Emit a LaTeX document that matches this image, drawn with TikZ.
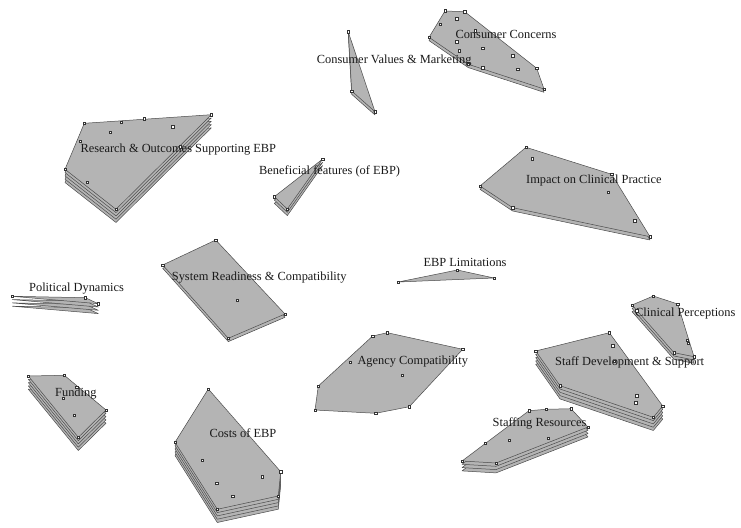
\documentclass[tikz,border=0pt]{standalone}
\usepackage{fontspec}
\setmainfont{Liberation Serif}
\definecolor{clusterfill}{RGB}{180,180,180}
\definecolor{clusterline}{RGB}{75,75,75}
\tikzset{
  cluster/.style={draw=clusterline,fill=clusterfill,line width=0.5pt,line join=round},
  vertex/.style={draw=black!80,fill=white,line width=0.4pt},
  clabel/.style={anchor=base west,inner sep=0pt,text=black!90,font=\fontsize{12.4}{14}\selectfont}
}
\begin{document}
\begin{tikzpicture}[x=1pt,y=-1pt]
\useasboundingbox (0,0) rectangle (741,527);

% cluster polygons, stacked
\foreach \k in {4,3,...,0}
  \draw[cluster,shift={(0,3.3*\k)}] (84.3,123.3) -- (211.3,114.7) -- (116,209.3) -- (65,169.3) -- cycle;
\foreach \k in {1,0}
  \draw[cluster,shift={(0,3.3*\k)}] (348.3,32) -- (375,111.7) -- (351.7,91) -- cycle;
\foreach \k in {1,0}
  \draw[cluster,shift={(0,3.3*\k)}] (445,11) -- (464.7,11.7) -- (536.7,68.3) -- (544,89) -- (468.3,64.3) -- (429,37.3) -- cycle;
\foreach \k in {2,1,0}
  \draw[cluster,shift={(0,3.3*\k)}] (322.7,159) -- (287.3,209) -- (274.3,196.7) -- cycle;
\foreach \k in {1,0}
  \draw[cluster,shift={(0,3.3*\k)}] (526,147.3) -- (611.7,174.3) -- (650,236.7) -- (512.7,207.7) -- (480,186) -- cycle;
\foreach \k in {3,2,1,0}
  \draw[cluster,shift={(0,3.3*\k)}] (12.3,296.3) -- (85.3,297.7) -- (98.3,303.7) -- cycle;
\foreach \k in {1,0}
  \draw[cluster,shift={(0,3.3*\k)}] (215.7,240) -- (285,314) -- (228.3,338.3) -- (162.7,265) -- cycle;
\draw[cluster] (398.3,282) -- (457.3,270) -- (494,278) -- cycle;
\foreach \k in {2,1,0}
  \draw[cluster,shift={(0,3.3*\k)}] (653.3,296) -- (677.7,304) -- (694,356.7) -- (674,352.7) -- (632,305) -- cycle;
\foreach \k in {4,3,...,0}
  \draw[cluster,shift={(0,3.3*\k)}] (609.3,332.7) -- (662.7,406) -- (653.3,417.3) -- (560,385.7) -- (535.7,351) -- cycle;
\draw[cluster] (372.7,336) -- (387.3,332.7) -- (462.7,349.3) -- (409.3,406.7) -- (375.7,413.3) -- (315,410) -- (318.3,386) -- cycle;
\foreach \k in {4,3,...,0}
  \draw[cluster,shift={(0,3.3*\k)}] (28.3,376) -- (64.3,375.3) -- (106,410) -- (78.3,437.3) -- cycle;
\foreach \k in {4,3,...,0}
  \draw[cluster,shift={(0,3.3*\k)}] (208.3,389) -- (280.7,471.7) -- (278.3,496) -- (217.3,509.3) -- (175,442.3) -- cycle;
\foreach \k in {3,2,1,0}
  \draw[cluster,shift={(0,3.3*\k)}] (529,410.7) -- (546,409.3) -- (571,408.7) -- (588,427) -- (496,463) -- (462,461) -- cycle;

% cluster labels
\node[clabel] (research) at (80.3,152.7) {Research \& Outcomes Supporting EBP};
\node[clabel] (values) at (316.7,63.3) {Consumer Values \& Marketing};
\node[clabel] (concerns) at (455.3,38.3) {Consumer Concerns};
\node[clabel] (benefit) at (259,174) {Beneficial features (of EBP)};
\node[clabel] (impact) at (526,183.3) {Impact on Clinical Practice};
\node[clabel] (politics) at (29,291) {Political Dynamics};
\node[clabel] (readiness) at (171.7,280) {System Readiness \& Compatibility};
\node[clabel] (limits) at (423.3,266) {EBP Limitations};
\node[clabel] (perceive) at (635,316.7) {Clinical Perceptions};
\node[clabel] (staffdev) at (555,365.7) {Staff Development \& Support};
\node[clabel] (agency) at (357.3,364.3) {Agency Compatibility};
\node[clabel] (funding) at (55,396.7) {Funding};
\node[clabel] (costs) at (209.3,437.3) {Costs of EBP};
\node[clabel] (staffing) at (492.5,426) {Staffing Resources};

% statement points
\foreach \x/\y in {84.3/123.3,211.3/114.7,116/209.3,65/169.3,121/122,144.3/118.7,172.7/126.7,110/132,80.3/141.3,87/182.3,180/146.7,
    348.3/32,375/111.7,351.7/91,
    445/11,464.7/11.7,536.7/68.3,544/89,468.3/64.3,429/37.3,440/24.3,456.7/19,475/31,456.7/41.7,459/50.7,482.7/48.3,512.7/56,517.7/69,482.7/67.7,
    322.7/159,287.3/209,274.3/196.7,
    526/147.3,611.7/174.3,650/236.7,512.7/207.7,480/186,532.3/158.7,608/192.3,634.7/220.7,
    12.3/296.3,85.3/297.7,98.3/303.7,
    215.7/240,285/314,228.3/338.3,162.7/265,237.3/300.3,
    398.3/282,457.3/270,494/278,
    653.3/296,677.7/304,694/356.7,674/352.7,632/305,636.7/310.7,687.3/340,688.3/343.3,
    609.3/332.7,662.7/406,653.3/417.3,560/385.7,535.7/351,612.7/345.7,614/361,636.7/395.7,635.7/402.7,
    372.7/336,387.3/332.7,462.7/349.3,409.3/406.7,375.7/413.3,315/410,318.3/386,350/362.3,402.3/375,
    28.3/376,64.3/375.3,106/410,78.3/437.3,76.7/387.3,63.3/398.3,74/415,
    208.3/389,280.7/471.7,278.3/496,217.3/509.3,175/442.3,202.3/460,216.7/483.3,232.7/496,262.3/476.7,
    529/410.7,546/409.3,571/408.7,588/427,496/463,462/461,485/443,509/440,548/438}
  \draw[vertex] (\x,\y) +(-1.3,-1.3) rectangle +(1.3,1.3);
\end{tikzpicture}
\end{document}
